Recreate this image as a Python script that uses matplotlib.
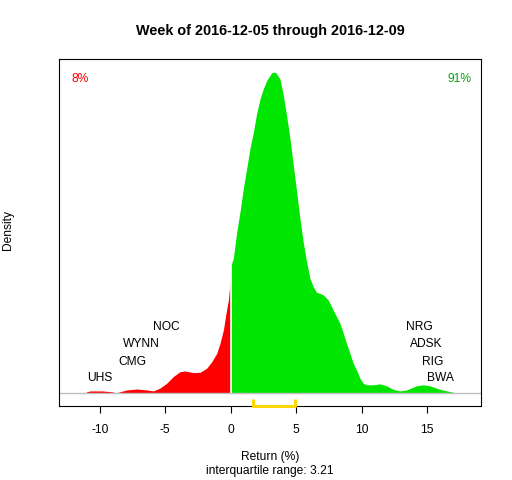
import numpy as np
import matplotlib
matplotlib.use("Agg")
import matplotlib.pyplot as plt

# ---- data ----
ret_x = [-11.03, -10.73, -9.84, -9.0, -8.8, -8.58, -7.94, -7.18, -6.41, -5.91,
         -5.40, -4.89, -4.38, -3.87, -3.49, -2.85, -2.34, -1.83, -1.45, -1.07,
         -0.82, -0.56, -0.36, -0.18, -0.05, 0.0, 0.20, 0.46, 0.71, 0.96,
         1.22, 1.47, 1.73, 1.98, 2.24, 2.49, 2.75, 3.13, 3.31, 3.46,
         3.76, 4.02, 4.27, 4.53, 4.78, 5.04, 5.29, 5.54, 5.80, 6.05,
         6.31, 6.56, 6.82, 7.07, 7.45, 7.58, 7.83, 8.09, 8.34, 8.60,
         8.85, 9.11, 9.36, 9.62, 9.87, 10.12, 10.38, 10.89, 11.40, 11.91,
         12.41, 12.92, 13.44, 14.20, 14.70, 15.21, 15.98, 16.74, 17.12]
density = [0.004, 0.007, 0.007, 0.004, 0.0, 0.003, 0.010, 0.013, 0.010, 0.007,
           0.016, 0.031, 0.052, 0.067, 0.069, 0.064, 0.065, 0.078, 0.098, 0.124,
           0.155, 0.197, 0.249, 0.290, 0.346, 0.396, 0.420, 0.502, 0.565, 0.637,
           0.700, 0.762, 0.813, 0.871, 0.917, 0.948, 0.974, 0.998, 1.000, 0.998,
           0.979, 0.928, 0.865, 0.793, 0.710, 0.627, 0.544, 0.471, 0.409, 0.358,
           0.331, 0.314, 0.311, 0.306, 0.290, 0.280, 0.259, 0.238, 0.218, 0.187,
           0.155, 0.124, 0.093, 0.072, 0.047, 0.031, 0.026, 0.026, 0.029, 0.023,
           0.012, 0.007, 0.010, 0.023, 0.026, 0.023, 0.012, 0.005, 0.002]

losers = ["UHS", "CMG", "WYNN", "NOC"]
loser_ret = [-10.03, -7.48, -6.85, -4.96]
winners = ["NRG", "ADSK", "RIG", "BWA"]
winner_ret = [14.40, 14.91, 15.47, 16.05]

pct_down = "8%"
pct_up = "91%"
iqr_lo, iqr_hi = 1.67, 4.88
iqr_value = 3.21
xticks = [-10, -5, 0, 5, 10, 15]
title = "Week of 2016-12-05 through 2016-12-09"

# ---- layout ----
W, H = 512, 480
plt.rcParams['font.family'] = ['Liberation Sans', 'DejaVu Sans']
fig = plt.figure(figsize=(W / 100, H / 100), dpi=100)
L, R, T, B = 59.3, 481.3, 59.3, 406.0
ax = fig.add_axes([L / W, 1 - B / H, (R - L) / W, (B - T) / H])

x = np.array(ret_x)
y = np.array(density)
neg = x <= 0
pos = x >= 0
ax.fill_between(x[neg], 0, y[neg], color='#ff0000', linewidth=0)
ax.fill_between(x[pos], 0, y[pos], color='#00e600', linewidth=0)
ax.axhline(0, color='#bebebe', lw=1, zorder=1)
ax.vlines(0, 0, y[x == 0][0], color='white', lw=1.2, zorder=3)

ax.set_xlim(-13.1, 19.15)
ax.set_ylim(-0.04, 1.04)

fs = 8.64
# ticker labels
lab_levels = [0.048, 0.098, 0.152, 0.207]
for name, r, lv in zip(losers, loser_ret, lab_levels):
    ax.text(r, lv, name, ha='center', va='center', fontsize=fs)
for name, r, lv in zip(winners, winner_ret, lab_levels[::-1]):
    ax.text(r, lv, name, ha='center', va='center', fontsize=fs)

# percent labels
ax.text(-11.5, 0.98, pct_down, color='#ff0000', ha='center', va='center', fontsize=fs)
ax.text(17.45, 0.98, pct_up, color='#10a010', ha='center', va='center', fontsize=fs)

# IQR bracket
ax.plot([iqr_lo, iqr_lo, iqr_hi, iqr_hi], [-0.018, -0.04, -0.04, -0.018],
        color='#ffd700', lw=2.2, clip_on=False, zorder=4, solid_capstyle='butt')

ax.set_xticks(xticks)
ax.set_xticklabels([str(t) for t in xticks])
ax.set_yticks([])
ax.tick_params(axis='x', length=5.0, width=0.8, pad=8.0, labelsize=fs, direction='out')
for s in ax.spines.values():
    s.set_linewidth(0.8)
    s.set_color('black')

fig.text(270.3 / W, 1 - 31.5 / H, title, ha='center', va='center',
         fontsize=10.4, fontweight='bold')
fig.text(270.3 / W, 1 - 457.3 / H, "Return (%)", ha='center', va='center', fontsize=fs)
fig.text(270.3 / W, 1 - 471.0 / H, f"interquartile range: {iqr_value:.2f}",
         ha='center', va='center', fontsize=fs)
fig.text(8 / W, 1 - 230 / H, "Density", rotation=90, ha='center', va='center', fontsize=fs)

fig.savefig("out.png", dpi=100)
